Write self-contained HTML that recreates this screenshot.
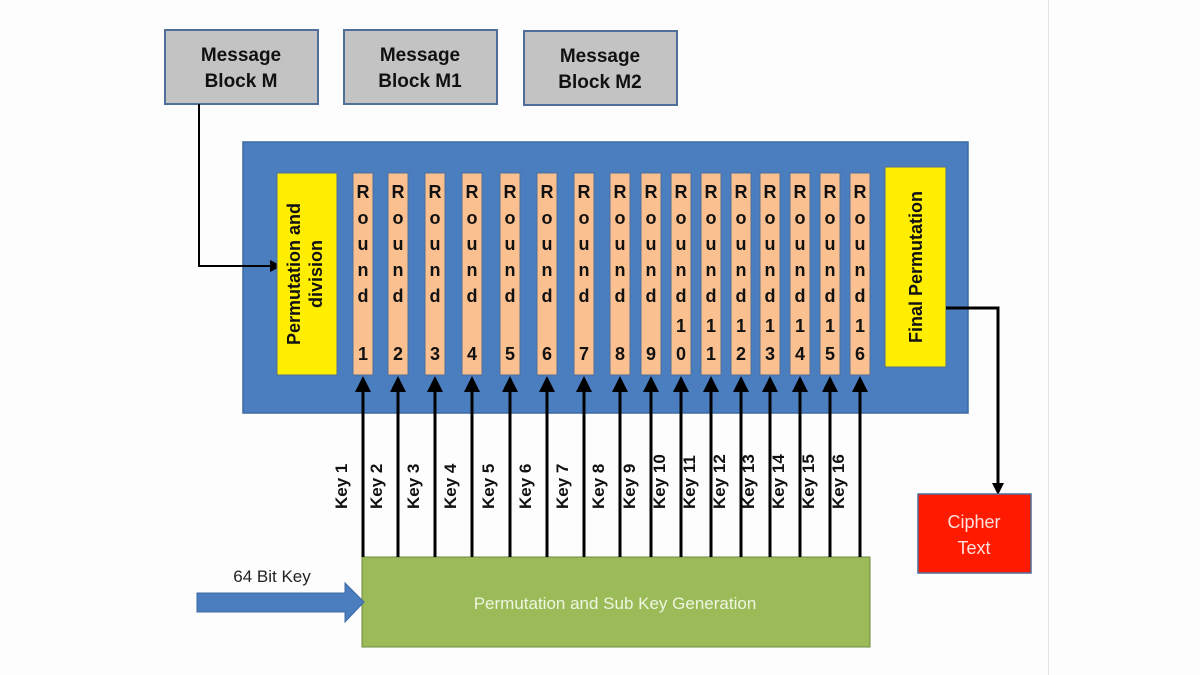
<!DOCTYPE html>
<html><head><meta charset="utf-8"><style>
html,body{margin:0;padding:0;background:#fdfdfd;}
svg{display:block;}
text{font-family:"Liberation Sans",Arial,sans-serif;}
</style></head><body>
<svg width="1200" height="675" viewBox="0 0 1200 675" xmlns="http://www.w3.org/2000/svg">
<defs>
<marker id="ah" markerWidth="12" markerHeight="12" refX="8" refY="6" orient="auto" markerUnits="userSpaceOnUse">
<path d="M0,0 L12,6 L0,12 Z" fill="#000"/></marker>
</defs>
<rect width="1200" height="675" fill="#fdfdfd"/>
<line x1="1048.5" y1="0" x2="1048.5" y2="675" stroke="#e4e4e4" stroke-width="1"/>

<g font-weight="bold" font-size="19" text-anchor="middle" fill="#111">
<rect x="165" y="30" width="153" height="74" fill="#c3c3c3" stroke="#4f6e9a" stroke-width="2"/>
<text x="241" y="61">Message</text><text x="241" y="87">Block M</text>
<rect x="344" y="30" width="153" height="74" fill="#c3c3c3" stroke="#4f6e9a" stroke-width="2"/>
<text x="420" y="61">Message</text><text x="420" y="87">Block M1</text>
<rect x="524" y="31" width="153" height="74" fill="#c3c3c3" stroke="#4f6e9a" stroke-width="2"/>
<text x="600" y="62">Message</text><text x="600" y="88">Block M2</text>
</g>

<rect x="243" y="142" width="725" height="271" fill="#4a7ebf" stroke="#3d6aa3" stroke-width="1.5"/>

<polyline points="199,104 199,266 278,266" fill="none" stroke="#000" stroke-width="2" marker-end="url(#ah)"/>

<rect x="277" y="173" width="60" height="202" fill="#ffee00" stroke="#4f6e9a" stroke-width="1"/>
<g font-weight="bold" font-size="18" text-anchor="middle" fill="#111">
<text transform="translate(300,274) rotate(-90)">Permutation and</text>
<text transform="translate(322,274) rotate(-90)">division</text>
</g>

<rect x="885" y="167" width="61" height="200" fill="#ffee00" stroke="#4f6e9a" stroke-width="1"/>
<text transform="translate(922,267) rotate(-90)" font-weight="bold" font-size="18" text-anchor="middle" fill="#111">Final Permutation</text>

<g id="rounds" font-weight="bold" font-size="18" text-anchor="middle" fill="#111"></g>

<polyline points="946,308 998,308 998,491" fill="none" stroke="#000" stroke-width="3" marker-end="url(#ah)"/>
<rect x="918" y="494" width="113" height="79" fill="#ff1a00" stroke="#4f6e9a" stroke-width="1.5"/>
<text x="974" y="528" font-size="18" text-anchor="middle" fill="#fbe0dc">Cipher</text>
<text x="974" y="554" font-size="18" text-anchor="middle" fill="#fbe0dc">Text</text>

<rect x="362" y="557" width="508" height="90" fill="#9bbb59" stroke="#6f8a3e" stroke-width="1"/>
<text x="615" y="609" font-size="17" text-anchor="middle" fill="#eef5e0">Permutation and Sub Key Generation</text>

<polygon points="197,593 345,593 345,583 364,602 345,622 345,612 197,612" fill="#4a7ebf" stroke="#3d6aa3" stroke-width="1"/>
<text x="272" y="582" font-size="17" text-anchor="middle" fill="#222">64 Bit Key</text>

<g id="keys" font-weight="bold" font-size="17" fill="#111"></g>
</svg>
<script>
var xs=[363,398,435,472,510,547,584,620,651,681,711,741,770,800,830,860];
var ns="http://www.w3.org/2000/svg";
var R=document.getElementById('rounds'),K=document.getElementById('keys');
function el(t,a,p,txt){var e=document.createElementNS(ns,t);for(var k in a)e.setAttribute(k,a[k]);if(txt!=null)e.textContent=txt;p.appendChild(e);return e;}
xs.forEach(function(x,i){
 var n=i+1;
 el('rect',{x:x-10,y:173,width:20,height:202,fill:'#fbc08f',stroke:'#4f6e9a','stroke-width':1},R);
 var L=['R','o','u','n','d'],Y=[198,224,250,276,302];
 L.forEach(function(c,j){el('text',{x:x,y:Y[j]},R,c);});
 var s=String(n);
 if(s.length==1){el('text',{x:x,y:360},R,s);}
 else{el('text',{x:x,y:332},R,s[0]);el('text',{x:x,y:360},R,s[1]);}
 el('line',{x1:x,y1:557,x2:x,y2:385,stroke:'#000','stroke-width':3},K);
 el('path',{d:'M'+(x-8)+',392 L'+x+',376 L'+(x+8)+',392 Z',fill:'#000'},K);
 el('text',{transform:'translate('+(x-16)+',509) rotate(-90)'},K,'Key '+n);
});
</script>
</body></html>
